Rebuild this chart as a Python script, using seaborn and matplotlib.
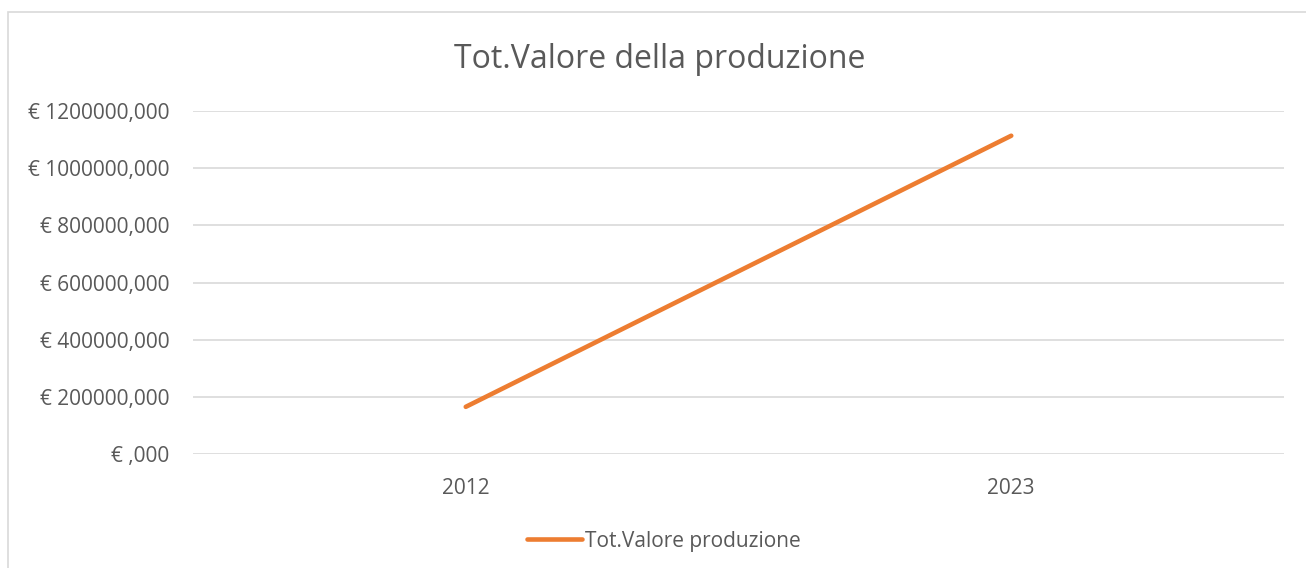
import pandas as pd
import seaborn as sns
import matplotlib.pyplot as plt
from matplotlib.ticker import FuncFormatter, MultipleLocator
from matplotlib.patches import Rectangle

# Data
years = ["2012", "2023"]
valore = [165000, 1113500]
series_name = "Tot.Valore produzione"
title = "Tot.Valore della produzione"

df = pd.DataFrame({"Anno": years, "Valore": valore})

sns.set_theme(style="white")
plt.rcParams['font.family'] = ['Open Sans', 'DejaVu Sans']
text_col = '#595959'

fig = plt.figure(figsize=(13.06, 5.68), dpi=100)
ax = fig.add_axes([193 / 1306, 1 - 454 / 568, (1284 - 193) / 1306, (454 - 111) / 568])

sns.lineplot(data=df, x="Anno", y="Valore", ax=ax, color='#ED7D31',
             linewidth=3.3, solid_capstyle='round', label=series_name, legend=False)

ax.set_xlim(-0.5, 1.5)
ax.set_ylim(0, 1200000)
ax.yaxis.set_major_locator(MultipleLocator(200000))
ax.yaxis.set_major_formatter(FuncFormatter(
    lambda v, p: "€ " + (f"{int(round(v))}" if v else "") + ",000"))
ax.grid(axis='y', color='#D9D9D9', linewidth=1.2)
ax.set_axisbelow(True)
for s in ax.spines.values():
    s.set_visible(False)
ax.tick_params(axis='both', length=0, labelsize=15, labelcolor=text_col)
ax.tick_params(axis='y', pad=17)
ax.tick_params(axis='x', pad=17)
ax.set_xlabel('')
ax.set_ylabel('')

fig.text(660 / 1306, 1 - 60 / 568, title, ha='center', va='center',
         fontsize=23, color=text_col)

handles, labels = ax.get_legend_handles_labels()
fig.legend(handles, labels, loc='center', bbox_to_anchor=(664 / 1306, 1 - 541 / 568),
           frameon=False, fontsize=15, labelcolor=text_col, handlelength=2.6,
           handletextpad=0.15)

# chart area border
fig.patches.append(Rectangle((8 / 1306, -0.01), 1.02, 1 - 12 / 568 + 0.01,
                             transform=fig.transFigure, fill=False,
                             edgecolor='#D9D9D9', linewidth=1.2))

plt.savefig("out.png", dpi=100)
